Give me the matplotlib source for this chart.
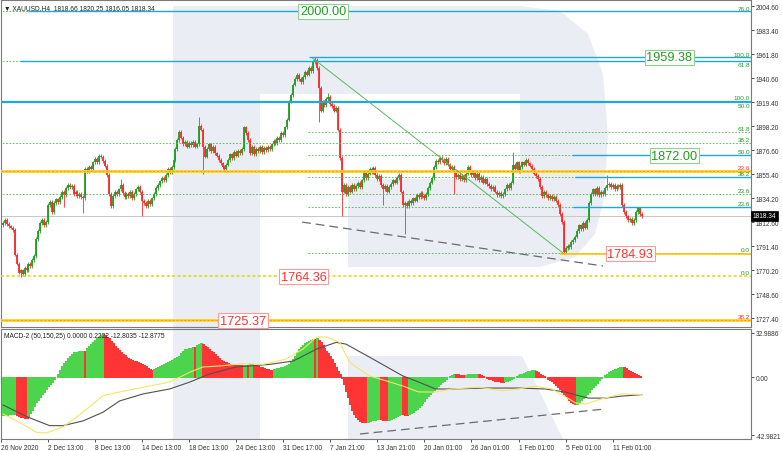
import numpy as np
import matplotlib.pyplot as plt
from matplotlib.patches import Polygon
from matplotlib.transforms import blended_transform_factory

plt.rcParams['font.family'] = ['Liberation Sans', 'DejaVu Sans']

# H4 closes, bar 0 = 26 Nov 2020
closes = [
    1812, 1815, 1811, 1809, 1808, 1806, 1784, 1776, 1768, 1770,
    1767, 1772, 1770, 1776, 1774, 1779, 1783, 1798, 1805, 1812,
    1815, 1810, 1813, 1828, 1831, 1822, 1830, 1833, 1831, 1835,
    1840, 1837, 1843, 1846, 1844, 1845, 1838, 1840, 1836, 1838,
    1835, 1834, 1860, 1858, 1862, 1860, 1866, 1869, 1866, 1872,
    1871, 1867, 1863, 1855, 1838, 1827, 1836, 1840, 1838, 1842,
    1846, 1839, 1835, 1838, 1836, 1840, 1834, 1838, 1842, 1844,
    1840, 1832, 1830, 1827, 1832, 1829, 1834, 1838, 1843, 1846,
    1849, 1852, 1850, 1855, 1860, 1857, 1862, 1868, 1878, 1886,
    1893, 1888, 1882, 1884, 1880, 1883, 1881, 1884, 1880, 1882,
    1898, 1895, 1880, 1871, 1878, 1882, 1876, 1880, 1874, 1872,
    1868, 1865, 1862, 1860, 1864, 1868, 1873, 1870, 1875, 1872,
    1876, 1874, 1878, 1897, 1892, 1886, 1874, 1880, 1873, 1878,
    1876, 1880, 1875, 1879, 1877, 1880, 1878, 1882, 1885, 1883,
    1888, 1886, 1892, 1890, 1897, 1904, 1920, 1926, 1935, 1940,
    1944, 1940, 1937, 1942, 1946, 1944, 1950, 1947, 1955, 1957,
    1950, 1932, 1912, 1920, 1917, 1922, 1924, 1918, 1916, 1912,
    1914, 1895, 1870, 1840, 1846, 1838, 1844, 1840, 1846, 1842,
    1845, 1848, 1844, 1850, 1858, 1852, 1856, 1860, 1857, 1861,
    1855, 1851, 1854, 1846, 1842, 1845, 1840, 1844, 1847, 1850,
    1848, 1852, 1855, 1840, 1828, 1830, 1827, 1832, 1830, 1834,
    1832, 1837, 1835, 1839, 1836, 1834, 1838, 1843, 1848, 1852,
    1862, 1867, 1866, 1870, 1868, 1865, 1869, 1864, 1860, 1862,
    1857, 1853, 1855, 1851, 1854, 1850, 1856, 1862, 1858, 1855,
    1858, 1852, 1856, 1850, 1853, 1848, 1851, 1847, 1845, 1842,
    1844, 1840, 1837, 1839, 1836, 1838, 1842, 1846, 1843, 1848,
    1864, 1860, 1866, 1858, 1862, 1866, 1864, 1868, 1865, 1863,
    1860, 1856, 1854, 1851, 1844, 1836, 1840, 1837, 1834, 1836,
    1833, 1835, 1832, 1828, 1820, 1813, 1786, 1790, 1792, 1791,
    1795, 1797, 1800, 1805, 1810, 1807, 1812, 1808, 1815, 1830,
    1838, 1842, 1838, 1843, 1837, 1840, 1838, 1843, 1846, 1847,
    1844, 1846, 1842, 1845, 1844, 1846, 1828, 1822, 1818, 1815,
    1816, 1812, 1815, 1822, 1825, 1820, 1818.34,
]
first_open = 1810
# long wicks: bar -> (high, low)
wicks = {
    9: (None, 1764.4), 31: (None, 1826), 41: (None, 1821), 60: (1851, None),
    71: (None, 1818), 100: (1906, None), 102: (None, 1856), 159: (1959.4, None),
    161: (None, 1902), 166: (1928, None), 173: (None, 1818), 194: (None, 1828),
    205: (None, 1802), 230: (None, 1838), 260: (1875, None), 286: (None, 1784.93),
    308: (1855, None),
}
wick_len = 1.6

macd_hist = [
    -28.2, -28.0, -27.8, -27.6, -27.5, -27.3, -27.2,
    -27.8, -28.5, -29.2, -29.8, -30.2, -30.5,
    -29, -26.5, -24, -21.3, -18.7, -16.8, -14.8, -12.8, -10.8, -8.7, -6.8, -5, -3.3, -1.6, 0.3,
    2.5, 5.5, 8.5, 10.5, 12.5, 14.5, 16, 17.5, 18.5, 19, 19.2, 19.4, 19.6, 19.8,
    19.5,
    21.5, 23.4, 25.0, 26.3, 27.6, 29.0, 30.3, 31.3, 32.2,
    31.5, 30.3, 28.9, 27.3, 25.5, 23.6, 22, 20.3, 18.8, 17.5, 16.3, 15.1, 14, 13.3, 12.8,
    12.4, 12.1, 11.4, 10.6, 9.8, 9, 8.1, 7.1, 6.2, 5.4,
    5.9, 6.7, 7.6, 8.4, 9.1, 9.9, 10.6, 11.4, 12.1, 12.9, 13.7, 14.5, 15.3, 16.2, 17.8,
    19.4, 20.8, 21.3, 21.7, 22.1, 22.5,
    22.2,
    23.8, 25, 25.3,
    24.5, 23.3, 22.2, 21, 19.9, 18.7, 17.2, 15.6, 14.1, 13.1, 12.3, 11.7, 11.2, 10.6,
    10.1, 9.7, 9.5, 9.3, 9.1, 9.0, 8.9,
    9.2, 9.5,
    9.4,
    9.7, 10.0,
    9.4, 8.8, 8.2, 7.7, 7.3, 6.9, 6.5, 6.1, 5.8, 5.6,
    5.9, 6.3, 6.7, 7.0, 7.4, 7.8, 8.3, 9.0, 10,
    11.8, 13.6, 16, 18.5, 21, 22.5, 24, 25.2, 26.3, 27, 27.8, 28.5,
    28.2,
    29.0,
    27.8, 26, 24, 21.8, 19.6, 17.8, 15.8, 13.8, 10.8, 7.8, 4.9, 2.3, -0.5, -5, -10, -15,
    -20, -24.5, -27.3, -29.5, -31.2, -32.4, -33, -33.4, -33.6,
    -33.2, -32.4, -32.1, -31.8, -31.5, -31.2, -31.0,
    -31.3, -31.6, -31.8, -32.0,
    -31.5, -30.9, -30.3, -29.6, -28.9, -28.1, -27.4,
    -27.6, -27.9, -28.1,
    -27.3, -26.4, -25.6, -24.5, -23.3, -22, -20.7, -19.2, -17.5, -15.7, -13.9, -12.1,
    -10.6, -9.1, -7.7, -6.4, -5, -3.6, -2.4, -1.2, 0.2,
    1.2, 2.0, 2.5,
    2.3, 2.1, 2.0, 1.9, 1.8,
    2.0, 2.2, 2.4, 2.5, 2.6, 2.7, 2.8,
    2.2, 1.6, 1.0, 0.4, -0.3,
    -0.9, -1.5, -2.0, -2.4, -2.7, -3.0, -3.2, -3.4,
    -3.0, -2.5, -1.8, -1.0,
    -0.2, 0.5, 1.2, 1.7, 2.1, 2.5, 3.2, 4.0, 4.7, 5.0, 5.3, 5.5,
    4.8, 3.8, 2.8, 1.8, 0.8,
    0.0, -0.9, -1.8, -2.7, -4.1, -5.5, -7.0, -8.8, -10.6, -12.4, -14, -15.6, -17.2,
    -18.7, -19.5, -20.1,
    -19.6, -18.4, -17.1, -15.6, -14, -12.4, -10.7, -9, -7.3, -5.7, -4.0, -2.3, -0.8,
    0.5, 1.7, 2.8, 3.7, 4.4, 5.1, 5.9, 6.5, 7.0, 7.5, 7.9,
    7.4, 6.6, 5.7, 4.9, 4.0, 3.1, 2.3, 1.6, 1.0, 0.22,
]
# MACD lines read at points (bar, value)
black_bar = [0, 12.8, 23.8, 30.6, 40.8, 51, 59.5, 71.4, 85, 95.2, 105.4, 119, 136, 148,
             160, 170, 175, 187, 204, 212, 220.6, 229, 246, 263, 276.7, 287, 293.7,
             298.8, 307, 315.8, 326]
black_val = [-20.6, -29.7, -36, -36, -32.5, -26, -17.6, -12.4, -8.7, -3.6, 2.5, 7.7, 9.6,
             12.1, 21, 26, 24.7, 15, 1, -3.5, -8.7, -8.7, -8, -8, -8.7, -11, -13.7,
             -15.5, -15.5, -14, -12.88]
yellow_bar = [0, 8.5, 17, 22, 30.6, 40.8, 51, 59.5, 71.4, 85, 95.2, 102, 110.5, 122.4,
              132.6, 144.5, 153, 160, 165, 171.8, 176.9, 187, 195.6, 204, 212, 220.6,
              229, 242.7, 254.6, 263, 271.6, 280, 287, 292, 297, 305.6, 315.8, 326]
yellow_val = [-27.3, -33.6, -41, -41.5, -37, -26, -13.7, -10.9, -7.4, -3.6, 3.7, 7.7, 8.4,
              10.2, 9.6, 13.6, 21, 30, 30, 26, 11, 1, -2.7, -6.5, -10.9, -11, -8.7, -7.4,
              -10, -8.7, -6.5, -8.7, -14.6, -19, -20, -16, -12.4, -12.8]

date_bars = [0, 24, 48, 72, 96, 120, 144, 168, 192, 216, 240, 264, 288, 312]
date_labels = ["26 Nov 2020", "2 Dec 13:00", "8 Dec 13:00", "14 Dec 13:00",
               "18 Dec 13:00", "24 Dec 13:00", "31 Dec 17:00", "7 Jan 21:00",
               "13 Jan 21:00", "20 Jan 01:00", "26 Jan 01:00", "1 Feb 01:00",
               "5 Feb 01:00", "11 Feb 01:00"]
price_ticks = [2004.60, 1983.40, 1961.80, 1940.60, 1919.40, 1898.20, 1876.60, 1855.40,
               1834.20, 1812.60, 1791.40, 1770.20, 1748.60, 1727.40]
macd_ticks = [32.9886, 0.0, -42.9821]
macd_tick_labels = ["32.9886", "0.00", "-42.9821"]

# levels: (price, first bar)
blue_levels = [(2000.0, 12.8), (1959.38, 156), (1955.8, 8.7), (1919.6, -2),
               (1872.5, 290.3), (1853.0, 291.8), (1826.3, 290.8)]
green_dotted = [(2000.0, -2), (1955.8, -2), (1920.5, -2), (1893.0, 155.5), (1883.1, -2),
                (1872.5, 155.5), (1853.0, 155.5), (1837.8, -2), (1826.3, 155.5),
                (1785.4, 155.5)]
orange_levels = [1858.3, 1725.8]
# (text, price, colour, above/below the line)
fib_labels = [("76.0", 2000.0, 'g', 'b'), ("100.0", 1959.38, 'g', 'b'),
              ("61.8", 1955.8, 'g', 't'), ("100.0", 1920.5, 'g', 'b'),
              ("50.0", 1919.6, 'g', 't'), ("61.8", 1893.0, 'g', 'b'),
              ("38.2", 1883.1, 'g', 'b'), ("50.0", 1872.5, 'g', 'b'),
              ("23.6", 1858.3, 'r', 'b'), ("38.2", 1853.0, 'g', 'b'),
              ("23.6", 1837.8, 'g', 'b'), ("23.6", 1826.3, 'g', 'b'),
              ("0.0", 1785.4, 'g', 'b'), ("0.0", 1764.9, 'g', 'b'),
              ("38.2", 1725.8, 'r', 'b')]
big_labels = [("2000.00", 2000.0, 163.3, 'g'), ("1959.38", 1959.38, 339.8, 'g'),
              ("1872.00", 1872.0, 342.6, 'g'), ("1784.93", 1784.93, 319.9, 'r'),
              ("1764.36", 1764.36, 153.3, 'r'), ("1725.37", 1725.37, 122.4, 'r')]

GREEN_TXT = '#229a22'
RED_TXT = '#ff3030'
W, H = 782, 452

fig = plt.figure(figsize=(W / 100, H / 100), dpi=100)
fig.patch.set_facecolor('white')


def fig_xy(pts):
    return [(x / W, (H - y) / H) for x, y in pts]


# background "R" watermark
wm = '#eaeef4'
shapes = [
    [(173, 7), (260, 7), (260, 440), (173, 440)],
    [(260, 7), (520, 7), (560, 12), (588, 35), (603, 75), (608, 137), (604, 200),
     (595, 235), (575, 258), (540, 268), (348, 268), (348, 180), (520, 180),
     (520, 95), (260, 95)],
    [(348, 357), (522, 357), (563, 440), (348, 440)],
]
for s in shapes:
    fig.add_artist(Polygon(fig_xy(s), closed=True, transform=fig.transFigure,
                           facecolor=wm, edgecolor='none', zorder=-5))

ax = fig.add_axes([1 / W, 124 / H, 750 / W, 327 / H])
ax2 = fig.add_axes([1 / W, 12 / H, 750 / W, 110 / H])
xlim = (-1.02, 381.6)
for a in (ax, ax2):
    a.set_facecolor('none')
    a.set_xlim(*xlim)
    for sp in a.spines.values():
        sp.set_color('#7a7a7a')
        sp.set_linewidth(0.8)
    a.yaxis.tick_right()
    a.tick_params(axis='y', direction='out', length=2.5, width=0.6, pad=1,
                  labelsize=4.7, colors='#333333')
ax.set_ylim(1719.7, 2010.2)
ax2.set_ylim(-45.94, 35.96)

# candles
c = np.array(closes, dtype=float)
o = np.array([first_open] + closes[:-1], dtype=float)
hi = np.maximum(o, c) + wick_len
lo = np.minimum(o, c) - wick_len
for k, (h, l) in wicks.items():
    if h is not None:
        hi[k] = h
    if l is not None:
        lo[k] = l
x = np.arange(len(c))
cols = ['#1e9e1e' if c[i] >= o[i] else '#ff2828' for i in range(len(c))]
ax.vlines(x, lo, hi, colors=cols, lw=0.6, zorder=3)
body_top = np.maximum(o, c)
body_bot = np.minimum(o, c)
body_top = np.where(body_top - body_bot < 0.6, body_bot + 0.6, body_top)
ax.vlines(x, body_bot, body_top, colors=cols, lw=1.3, zorder=3)

# levels
for p, start in green_dotted:
    ax.hlines(p, start, xlim[1], colors='#4caf50', lw=0.6, linestyles=(0, (2, 2)), zorder=4)
for p, start in blue_levels:
    lw = 1.6 if start < 0 else 1.0
    ax.hlines(p, start, xlim[1], colors='#1ea8e0', lw=lw, zorder=4)
for p in orange_levels:
    ax.axhline(p, color='#ffd21e', lw=2.0, zorder=4)
    ax.axhline(p, color='#ff9a00', lw=0.7, ls=(0, (2, 2)), zorder=4)
ax.hlines(1784.93, 284, xlim[1], colors='#ffc400', lw=1.2, zorder=4)
ax.axhline(1764.9, color='#e0d800', lw=1.1, ls=(0, (2, 1.5)), zorder=4)
ax.axhline(1818.34, color='#c8c8c8', lw=0.7, zorder=2)

# trend lines
ax.plot([158, 286], [1958.5, 1785], color='#5cb85c', lw=0.7, zorder=4)
ax.plot([152.6, 306.1], [1812.9, 1773.9], color='#6a6a6a', lw=0.9,
        dashes=(7, 4), zorder=4)

trans = blended_transform_factory(ax.transAxes, ax.transData)
for txt, p, col, side in fib_labels:
    ax.text(0.9985, p + (0.6 if side == 'b' else -0.6), txt, transform=trans, ha='right',
            va='bottom' if side == 'b' else 'top',
            fontsize=4.6, color=GREEN_TXT if col == 'g' else RED_TXT, zorder=6)

for txt, p, xi, col in big_labels:
    tc = GREEN_TXT if col == 'g' else RED_TXT
    ec = '#8fd08f' if col == 'g' else '#ff9a9a'
    ax.text(xi, p, txt, ha='center', va='center', fontsize=9.2, color=tc, zorder=7,
            bbox=dict(boxstyle='square,pad=0.12', fc='white', ec=ec, lw=0.8))

ax.set_yticks(price_ticks)
ax.set_yticklabels([f"{v:.2f}" for v in price_ticks])
ax.set_xticks([])
ax.text(1.002, 1818.34, "1818.34", transform=trans, ha='left', va='center',
        fontsize=4.7, color='white', zorder=8, clip_on=False,
        bbox=dict(boxstyle='square,pad=0.25', fc='black', ec='black', lw=0.5))
ax.text(0.004, 0.988, "\u25BC XAUUSD,H4  1818.66 1820.25 1816.05 1818.34",
        transform=ax.transAxes, ha='left', va='top', fontsize=4.8, color='#222222')

# MACD panel
hv = np.array(macd_hist)
hcol = ['#4cd44c'] + ['#4cd44c' if hv[i] >= hv[i - 1] else '#ff3434' for i in range(1, len(hv))]
ax2.vlines(np.arange(len(hv)), 0, hv, colors=hcol, lw=1.0, zorder=3, antialiased=False)
ax2.plot(black_bar, black_val, color='#505050', lw=0.8, zorder=4)
ax2.plot(yellow_bar, yellow_val, color='#f6e46a', lw=0.8, zorder=4)
ax2.plot([182.1, 307.1], [-42.2, -23.6], color='#6a6a6a', lw=0.9, dashes=(7, 4), zorder=4)
ax2.set_yticks(macd_ticks)
ax2.set_yticklabels(macd_tick_labels)
ax2.set_xticks([b - 1 for b in date_bars])
ax2.set_xticklabels(date_labels, ha='left')
ax2.tick_params(axis='x', direction='out', length=2, width=0.6, pad=1.5,
                labelsize=4.8, colors='#333333')
ax2.text(0.004, 0.97, "MACD-2 (50,150,25) 0.0000 0.2222 -12.8035 -12.8775",
         transform=ax2.transAxes, ha='left', va='top', fontsize=4.8, color='#222222')

fig.savefig('out.png', dpi=100)
